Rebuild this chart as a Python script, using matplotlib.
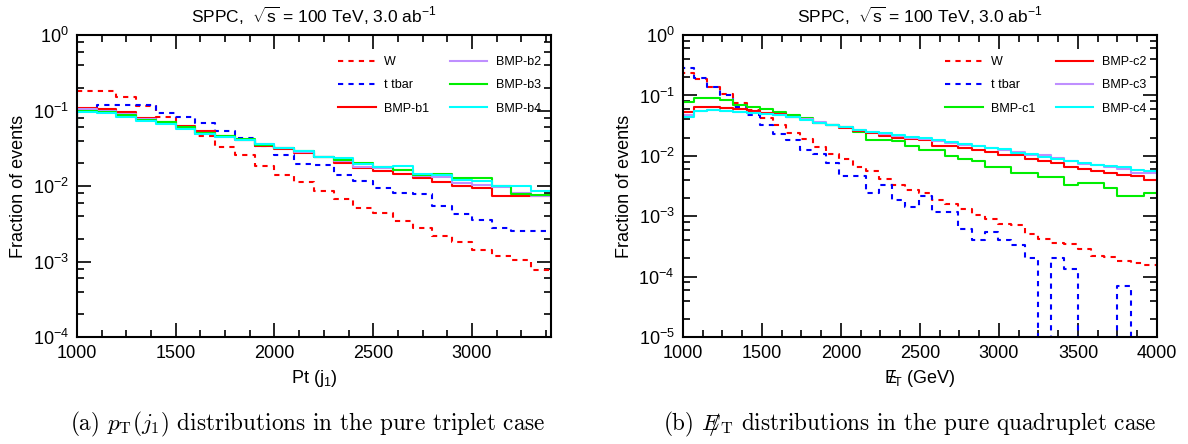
import numpy as np
import matplotlib
matplotlib.use("Agg")
import matplotlib.pyplot as plt
from matplotlib.ticker import LogLocator, MultipleLocator, NullFormatter

# fractions of events, one value per bin
# (a) leading jet pT, 100 GeV bins from 1000 to 3400
pt_edges = np.arange(1000, 3401, 100)
pt_below = 0.021  # bin just under 1000 GeV, only its right edge shows
w_pt = [0.179, 0.179, 0.153, 0.115, 0.083, 0.061, 0.046, 0.0334, 0.0254, 0.0185, 0.0141, 0.0112,
        0.0087, 0.0067, 0.0051, 0.0044, 0.0034, 0.0028, 0.00215, 0.0018, 0.0014, 0.00117, 0.00105, 0.00078]
tt_pt = [0.104, 0.119, 0.119, 0.119, 0.0923, 0.0834, 0.0694, 0.0528, 0.0431, 0.0341, 0.0259, 0.0197,
         0.0190, 0.0141, 0.0115, 0.0094, 0.0080, 0.0078, 0.0054, 0.0042, 0.0036, 0.0028, 0.0025, 0.00255]
b1 = [0.1097, 0.1042, 0.0951, 0.0808, 0.0716, 0.0633, 0.0544, 0.0462, 0.0409, 0.0341, 0.0314, 0.0272,
      0.0241, 0.0205, 0.0175, 0.0156, 0.0144, 0.0127, 0.0112, 0.0101, 0.0094, 0.0074, 0.0074, 0.0073]
b2 = [0.1042, 0.1001, 0.0904, 0.0784, 0.0694, 0.0596, 0.0501, 0.0453, 0.0405, 0.0358, 0.0317, 0.0284,
      0.0239, 0.0216, 0.0181, 0.0172, 0.0164, 0.0134, 0.0131, 0.0111, 0.0104, 0.0096, 0.0082, 0.0073]
b3 = [0.1001, 0.0971, 0.0877, 0.0753, 0.0709, 0.0614, 0.0512, 0.0458, 0.0422, 0.0355, 0.0317, 0.0287,
      0.0246, 0.0222, 0.0201, 0.0178, 0.0164, 0.0141, 0.0145, 0.0127, 0.0127, 0.0101, 0.0078, 0.0077]
b4 = [0.0951, 0.0923, 0.0834, 0.0730, 0.0660, 0.0567, 0.0491, 0.0453, 0.0409, 0.0362, 0.0321, 0.0292,
      0.0246, 0.0232, 0.0197, 0.0178, 0.0185, 0.0145, 0.0141, 0.0121, 0.0118, 0.0099, 0.0099, 0.0086]

# (b) missing ET, 36 bins ending at 4000 GeV
met_edges = np.linspace(984, 4000, 37)
w_met = [0.2316, 0.1842, 0.1392, 0.1039, 0.0756, 0.0571, 0.0416, 0.0322, 0.0241, 0.0187,
         0.0141, 0.0109, 0.0087, 0.00657, 0.00564, 0.00421, 0.00335, 0.00277, 0.00238, 0.00189,
         0.00162, 0.00134, 0.00104, 0.000915, 0.000756, 0.000709, 0.000516, 0.000426, 0.000361, 0.000352,
         0.000291, 0.000217, 0.000212, 0.000180, 0.000168, 0.000154]
tt_met = [0.2803, 0.1913, 0.1392, 0.1013, 0.0649, 0.0472, 0.0322, 0.0229, 0.0182, 0.0124,
          0.0109, 0.00766, 0.0046, 0.0046, 0.00244, 0.00326, 0.00184, 0.00143, 0.00215, 0.00118,
          0.00118, 0.000609, 0.00041, 0.00055, 0.00041, 0.000331, 0.000204, 0, 0.000204, 0.000136,
          0, 0, 0, 0.0000692, 0, 0]
c1 = [0.0785, 0.0892, 0.0892, 0.0837, 0.0692, 0.0649, 0.0586, 0.0536, 0.0472, 0.0416,
      0.0352, 0.0322, 0.0295, 0.0250, 0.0182, 0.0182, 0.0175, 0.0145, 0.0124, 0.0124,
      0.0100, 0.00903, 0.00816, 0.00657, 0.00657, 0.00523, 0.00523, 0.00449, 0.00449, 0.00335,
      0.00357, 0.00357, 0.00299, 0.00215, 0.00215, 0.00244]
c2 = [0.0536, 0.0633, 0.0633, 0.0609, 0.0594, 0.0557, 0.0516, 0.0490, 0.0443, 0.0405,
      0.0352, 0.0322, 0.0284, 0.0260, 0.0235, 0.0212, 0.0194, 0.0189, 0.0182, 0.0145,
      0.0145, 0.0136, 0.0124, 0.0116, 0.0103, 0.0103, 0.0087, 0.00816, 0.00766, 0.00657,
      0.00601, 0.00564, 0.00529, 0.0049, 0.00466, 0.00405]
c3 = [0.0472, 0.0557, 0.0571, 0.0557, 0.0536, 0.0516, 0.0490, 0.0466, 0.0432, 0.0400,
      0.0366, 0.0322, 0.0295, 0.0266, 0.0250, 0.0229, 0.0215, 0.0201, 0.0189, 0.0177,
      0.0166, 0.0154, 0.0145, 0.0136, 0.0127, 0.0114, 0.0105, 0.0103, 0.00938, 0.00826,
      0.00728, 0.0070, 0.00657, 0.00617, 0.00523, 0.00523]
c4 = [0.0443, 0.0557, 0.0571, 0.0550, 0.0536, 0.0516, 0.0490, 0.0472, 0.0443, 0.0390,
      0.0352, 0.0322, 0.0295, 0.0273, 0.0250, 0.0235, 0.0220, 0.0207, 0.0194, 0.0182,
      0.0171, 0.0156, 0.0145, 0.0137, 0.0132, 0.0112, 0.0109, 0.00963, 0.0087, 0.00826,
      0.00766, 0.0070, 0.00674, 0.00657, 0.00594, 0.00564]

RED, BLUE, GREEN, PURPLE, CYAN = "#ff0000", "#0000ff", "#00ee00", "#bf8fff", "#00ffff"

plt.rcParams["font.family"] = ["Liberation Sans", "DejaVu Sans"]
plt.rcParams["mathtext.fontset"] = "custom"
plt.rcParams["mathtext.rm"] = "Liberation Sans"
plt.rcParams["mathtext.it"] = "Liberation Sans:italic"
plt.rcParams["mathtext.sf"] = "Liberation Sans"


def hist(ax, edges, vals, color, label, dashed=False):
    y = np.append(vals, vals[-1])
    ln, = ax.step(edges, y, where="post", color=color, lw=1.5, label=label)
    if dashed:
        ln.set_dashes((2.5, 2.5))
    return ln


def style(ax, xmax, ymin):
    ax.set_yscale("log")
    ax.set_xlim(1000, xmax)
    ax.set_ylim(ymin, 1)
    ax.yaxis.set_major_locator(LogLocator(base=10, numticks=10))
    ax.yaxis.set_minor_locator(LogLocator(base=10, subs=(2, 4, 6, 8), numticks=10))
    ax.yaxis.set_minor_formatter(NullFormatter())
    ax.xaxis.set_major_locator(MultipleLocator(500))
    ax.xaxis.set_minor_locator(MultipleLocator(125))
    ax.tick_params(which="both", direction="in", top=True, right=True, labelsize=13, width=1.2)
    ax.tick_params(which="major", length=10, pad=6)
    ax.tick_params(which="minor", length=5)
    for s in ax.spines.values():
        s.set_linewidth(1.5)
    ax.set_ylabel("Fraction of events", fontsize=13, labelpad=4)
    ax.set_title(r"SPPC,  $\sqrt{\mathrm{s}}$ = 100 TeV, 3.0 ab$^{-1}$", fontsize=12.5, pad=9)


def legend(ax, handles, x0):
    ax.legend(handles=handles, ncol=2, loc="upper left", bbox_to_anchor=(x0, 0.93), frameon=False,
              fontsize=9, handlelength=3.0, handletextpad=0.7, columnspacing=1.6,
              labelspacing=0.9, borderpad=0, borderaxespad=0)


fig = plt.figure(figsize=(11.88, 4.44), dpi=100)
ax1 = fig.add_axes([0.0648, 0.241, 0.399, 0.680])
ax2 = fig.add_axes([0.5749, 0.241, 0.399, 0.680])

# left panel
pt_edges_ext = np.append(900, pt_edges)
h = [hist(ax1, pt_edges, w_pt, RED, "W", dashed=True),
     hist(ax1, pt_edges, tt_pt, BLUE, "t tbar", dashed=True)]
for vals, col, lab in [(b1, RED, "BMP-b1"), (b2, PURPLE, "BMP-b2"),
                       (b3, GREEN, "BMP-b3"), (b4, CYAN, "BMP-b4")]:
    h.append(hist(ax1, pt_edges_ext, [pt_below] + vals, col, lab))
style(ax1, 3400, 1e-4)
ax1.set_xlabel(r"Pt (j$_1$)", fontsize=13, labelpad=4)
legend(ax1, h, 0.551)

# right panel
h = [hist(ax2, met_edges, w_met, RED, "W", dashed=True),
     hist(ax2, met_edges, tt_met, BLUE, "t tbar", dashed=True)]
for vals, col, lab in [(c1, GREEN, "BMP-c1"), (c2, RED, "BMP-c2"),
                       (c3, PURPLE, "BMP-c3"), (c4, CYAN, "BMP-c4")]:
    h.append(hist(ax2, met_edges, vals, col, lab))
style(ax2, 4000, 1e-5)
ax2.set_xlabel(r"$\mathrm{E\!\!\!/}_{\mathrm{T}}$ (GeV)", fontsize=13, labelpad=4)
legend(ax2, h, 0.553)

# sub-figure captions
fig.text(0.2588, 0.045, r"(a) $p_{\mathrm{T}}(j_1)$ distributions in the pure triplet case",
         family="cmr10", math_fontfamily="cm", fontsize=16.7, ha="center", va="center")
fig.text(0.766, 0.045, r"(b) $E\!\!\!/_{\mathrm{T}}$ distributions in the pure quadruplet case",
         family="cmr10", math_fontfamily="cm", fontsize=16.7, ha="center", va="center")

fig.savefig("out.png", dpi=100)
